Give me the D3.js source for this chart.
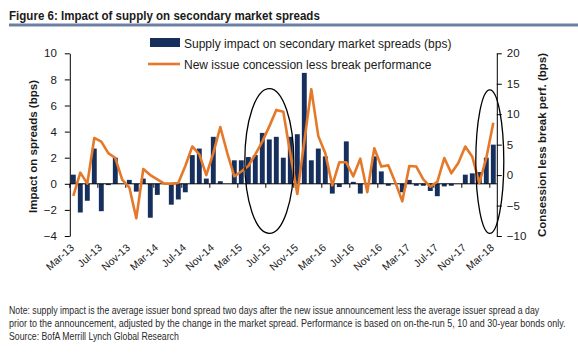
<!DOCTYPE html>
<html><head><meta charset="utf-8">
<script src="https://cdn.jsdelivr.net/npm/d3@7"></script>
<style>
body{margin:0;background:#fff;}
svg{display:block;font-family:"Liberation Sans",Arial,sans-serif;}
</style>
</head><body>
<svg id="chart" width="578" height="357"></svg>
<script>
const months = ["Mar-13","Apr-13","May-13","Jun-13","Jul-13","Aug-13","Sep-13","Oct-13","Nov-13","Dec-13",
"Jan-14","Feb-14","Mar-14","Apr-14","May-14","Jun-14","Jul-14","Aug-14","Sep-14","Oct-14","Nov-14","Dec-14",
"Jan-15","Feb-15","Mar-15","Apr-15","May-15","Jun-15","Jul-15","Aug-15","Sep-15","Oct-15","Nov-15","Dec-15",
"Jan-16","Feb-16","Mar-16","Apr-16","May-16","Jun-16","Jul-16","Aug-16","Sep-16","Oct-16","Nov-16","Dec-16",
"Jan-17","Feb-17","Mar-17","Apr-17","May-17","Jun-17","Jul-17","Aug-17","Sep-17","Oct-17","Nov-17","Dec-17",
"Jan-18","Feb-18","Mar-18"];
const supplyImpact = [0.7,-2.2,-1.3,2.7,-2.1,-0.1,2.0,0.0,0.3,-0.6,
0.4,-2.6,-0.85,0.0,-1.6,-1.2,-0.65,2.2,2.7,0.4,3.6,0.2,
0.0,1.8,1.8,2.05,2.2,3.9,3.4,3.6,2.0,3.6,3.8,8.5,
1.8,2.7,2.1,-0.75,-0.25,3.25,0.15,-0.75,0.0,2.1,0.95,-0.15,
0.0,-0.65,0.3,-0.15,-0.15,-0.55,-0.95,-0.2,-0.15,0.0,0.7,0.8,
0.9,2.0,3.0];
const concession = [-3.4,0.4,-1.4,6.1,5.5,3.6,2.8,-0.8,-2.0,-7.1,
1.0,0.0,-0.7,-1.4,-1.4,-1.3,1.5,4.7,3.4,0.0,3.6,7.9,
3.6,-0.2,0.6,1.5,3.4,5.5,8.0,10.7,10.4,3.5,-3.1,5.5,
14.1,6.4,3.6,-1.7,2.1,2.1,-0.2,2.7,-2.8,4.4,1.4,1.6,
-1.2,-4.3,1.5,1.4,-0.7,-1.9,-1.1,2.8,0.3,2.0,4.7,3.0,
-1.3,2.8,8.6];
const leftTicks = [-4,-2,0,2,4,6,8,10];
const rightTicks = [-10,-5,0,5,10,15,20];
const xLabels = ["Mar-13","Jul-13","Nov-13","Mar-14","Jul-14","Nov-14","Mar-15","Jul-15","Nov-15","Mar-16","Jul-16","Nov-16","Mar-17","Jul-17","Nov-17","Mar-18"];
const highlights = [
  {center:"Jul-15", shift:0, halfMonths:3.5, top:7.3, bottom:-3.8},
  {center:"Feb-18", shift:0.5, halfMonths:2.0, top:7.2, bottom:-3.8}
];
const titleText = "Figure 6: Impact of supply on secondary market spreads";
const legendLabels = ["Supply impact on secondary market spreads (bps)","New issue concession less break performance"];
const leftTitle = "Impact on spreads (bps)";
const rightTitle = "Consession less break perf. (bps)";
const notes = [
 "Note: supply impact is the average issuer bond spread two days after the new issue announcement  less the average issuer spread a day",
 "prior to the announcement,  adjusted by the change in the market spread. Performance is based on on-the-run 5, 10 and 30-year bonds only.",
 "Source:  BofA Merrill Lynch Global Research"
];

const BAR = "#172f5c", ORANGE = "#e5792a", INK = "#1a1a1a";
const svg = d3.select("#chart");
const L = 69.8, R = 496.8, T = 53.3, B = 236;

const x = d3.scaleBand().domain(months).range([L, R]).paddingInner(0.3).paddingOuter(0.15);
const step = x.step(), bw = x.bandwidth();
const yL = d3.scaleLinear().domain([-4, 10]).range([B, T]);
const yR = d3.scaleLinear().domain([-10, 20]).range([B, T]);
const cx = m => x(m) + bw / 2;

// fit a text horizontally to a target width by scaling
function fitText(sel, x0, y0, target) {
  sel.each(function(d, i) {
    const t = d3.select(this);
    const w = this.getComputedTextLength();
    const tw = typeof target === "function" ? target(d, i) : target;
    const yy = typeof y0 === "function" ? y0(d, i) : y0;
    const s = w > 0 ? tw / w : 1;
    t.attr("x", 0).attr("y", 0).attr("transform", `translate(${x0},${yy}) scale(${s},1)`);
  });
}

// Title
const title = svg.append("text").text(titleText)
  .attr("font-weight", "bold").attr("font-size", 13).attr("fill", INK);
fitText(title, 9, 19.5, 311);
svg.append("rect").attr("x", 9).attr("y", 23.5).attr("width", 569).attr("height", 3).attr("fill", "#6b80a3");

// Bars
svg.append("g").selectAll("rect").data(months).join("rect")
  .attr("x", d => x(d)).attr("width", bw)
  .attr("y", (d, i) => yL(Math.max(0, supplyImpact[i])))
  .attr("height", (d, i) => Math.abs(yL(supplyImpact[i]) - yL(0)))
  .attr("fill", BAR);

// zero axis line with boundary ticks
const g0 = svg.append("g").attr("stroke", "#000").attr("stroke-width", 1);
g0.append("line").attr("x1", L).attr("x2", R).attr("y1", yL(0)).attr("y2", yL(0));
g0.selectAll("line.tk").data(xLabels).join("line").attr("class", "tk")
  .attr("x1", d => x(d) - (step - bw) / 2).attr("x2", d => x(d) - (step - bw) / 2)
  .attr("y1", yL(0)).attr("y2", yL(0) + 4);

// Line
const line = d3.line().x((d, i) => cx(months[i])).y(d => yR(d));
svg.append("path").datum(concession).attr("d", line)
  .attr("fill", "none").attr("stroke", ORANGE).attr("stroke-width", 2.6).attr("stroke-linejoin", "round");

// Ellipses
svg.append("g").selectAll("ellipse").data(highlights).join("ellipse")
  .attr("cx", d => cx(d.center) + d.shift * step)
  .attr("cy", d => (yL(d.top) + yL(d.bottom)) / 2)
  .attr("rx", d => d.halfMonths * step)
  .attr("ry", d => (yL(d.bottom) - yL(d.top)) / 2)
  .attr("fill", "none").attr("stroke", "#000").attr("stroke-width", 1.3);

// Left axis
const ax = svg.append("g").attr("transform", `translate(${L},0)`)
  .call(d3.axisLeft(yL).tickValues(leftTicks).tickSize(5).tickSizeOuter(0).tickPadding(8).tickFormat(d3.format("d")));
// Right axis
const ar = svg.append("g").attr("transform", `translate(${R},0)`)
  .call(d3.axisRight(yR).tickValues(rightTicks).tickSize(5).tickSizeOuter(0).tickPadding(5).tickFormat(d3.format("d")));
[ax, ar].forEach(a => {
  a.selectAll("path,line").attr("stroke", "#000");
  a.selectAll("text").attr("font-size", 11.5).attr("fill", INK).attr("font-family", "'Liberation Sans',Arial,sans-serif");
});

// X labels
const xa = svg.append("g").attr("transform", "translate(0,250)")
  .call(d3.axisBottom(x).tickValues(xLabels).tickSize(0).tickPadding(0));
xa.select(".domain").remove();
xa.selectAll("text").attr("font-size", 10.5).attr("fill", INK)
  .attr("font-family", "'Liberation Sans',Arial,sans-serif")
  .attr("text-anchor", "end").attr("x", 2).attr("y", 0).attr("dy", 0)
  .attr("transform", "rotate(-42)");

// Axis titles
svg.append("text").attr("transform", `translate(37,${(80 + 213) / 2}) rotate(-90)`)
  .attr("text-anchor", "middle").attr("font-weight", "bold").attr("font-size", 11.5).attr("fill", INK).text(leftTitle);
svg.append("text").attr("transform", `translate(546,${(53 + 237) / 2}) rotate(-90)`)
  .attr("text-anchor", "middle").attr("font-weight", "bold").attr("font-size", 11.5).attr("fill", INK).text(rightTitle);

// Legend
svg.append("rect").attr("x", 150).attr("y", 38).attr("width", 30).attr("height", 9).attr("fill", BAR);
svg.append("line").attr("x1", 148).attr("x2", 180).attr("y1", 64).attr("y2", 64).attr("stroke", ORANGE).attr("stroke-width", 2.6);
svg.append("text").attr("x", 184).attr("y", 48).attr("font-size", 12).attr("fill", INK).text(legendLabels[0]);
svg.append("text").attr("x", 184).attr("y", 69).attr("font-size", 12).attr("fill", INK).text(legendLabels[1]);

// Notes
const noteW = [531, 557, 170];
const nt = svg.append("g").selectAll("text").data(notes).join("text")
  .attr("font-size", 10).attr("fill", "#2a2a2a").text(d => d);
fitText(nt, 9, (d, i) => 313.5 + i * 13.2, (d, i) => noteW[i]);
</script>
</body></html>
